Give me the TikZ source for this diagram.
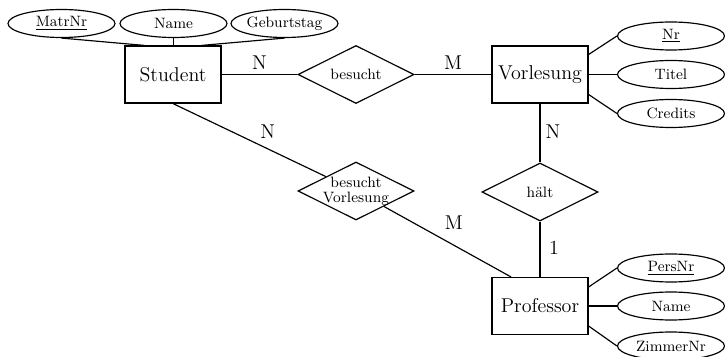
\documentclass[tikz,border=0pt]{standalone}
\usetikzlibrary{shapes.geometric}
\tikzset{
  entity/.style={draw, rectangle, minimum width=57.6pt, minimum height=34.2pt, inner sep=0pt, font=\large},
  attr/.style={draw, ellipse, minimum width=64.2pt, minimum height=16.8pt, inner sep=0pt, font=\small},
  rel/.style={draw, diamond, aspect=2, minimum width=69.6pt, minimum height=34.8pt, inner sep=0pt, font=\small},
  card/.style={font=\large, inner sep=0pt},
}
\begin{document}
\begin{tikzpicture}[x=0.6pt, y=-0.6pt, line width=0.7pt]
\useasboundingbox (0,0) rectangle (725,357);
% entities
\node[entity] (S) at (173,74.5) {Student};
\node[entity] (V) at (540,74.5) {Vorlesung};
\node[entity] (P) at (540,306) {Professor};
% attributes
\node[attr] (MatrNr) at (61.5,23.5) {\underline{MatrNr}};
\node[attr] (SName) at (173.5,23.5) {Name};
\node[attr] (Geb) at (284.5,23.5) {Geburtstag};
\node[attr] (Nr) at (671,36) {\underline{Nr}};
\node[attr] (Titel) at (671,74.5) {Titel};
\node[attr] (Cred) at (671,113.5) {Credits};
\node[attr] (PersNr) at (671,268) {\underline{PersNr}};
\node[attr] (PName) at (671,306) {Name};
\node[attr] (Zim) at (671,346) {ZimmerNr};
% relationships
\node[rel] (bes) at (356,74.5) {besucht};
\node[rel] (bV) at (356,191) {};
\node[font=\small, align=center, inner sep=0pt] (bVt) at (bV) {besucht\\[-2pt]Vorlesung};
\node[rel] (halt) at (540,192) {hält};
% attribute links
\draw (MatrNr.south) -- ([xshift=-17.1pt]S.north);
\draw (SName.south) -- (SName.south |- S.north);
\draw (Geb.south) -- ([xshift=17.1pt]S.north);
\draw ([yshift=12pt]V.east) -- (Nr.west);
\draw (V.east) -- (Titel.west);
\draw ([yshift=-12pt]V.east) -- (Cred.west);
\draw ([yshift=11.4pt]P.east) -- (PersNr.west);
\draw (P.east) -- (PName.west);
\draw ([yshift=-12pt]P.east) -- (Zim.west);
% relationship links
\draw (S) -- (bes) node[card, midway, yshift=7.2pt] {N};
\draw (bes) -- (V) node[card, midway, yshift=7pt] {M};
\draw (S.south) -- (bV) node[card, pos=0.62, yshift=10.2pt] {N};
\draw (bV) -- ([xshift=-17.4pt]P.north) node[card, pos=0.55, yshift=13.8pt] {M};
\draw (V) -- (halt) node[card, midway, xshift=7.8pt, yshift=1pt] {N};
\draw (halt) -- (P) node[card, midway, xshift=8.4pt, yshift=1pt] {1};
\end{tikzpicture}
\end{document}
